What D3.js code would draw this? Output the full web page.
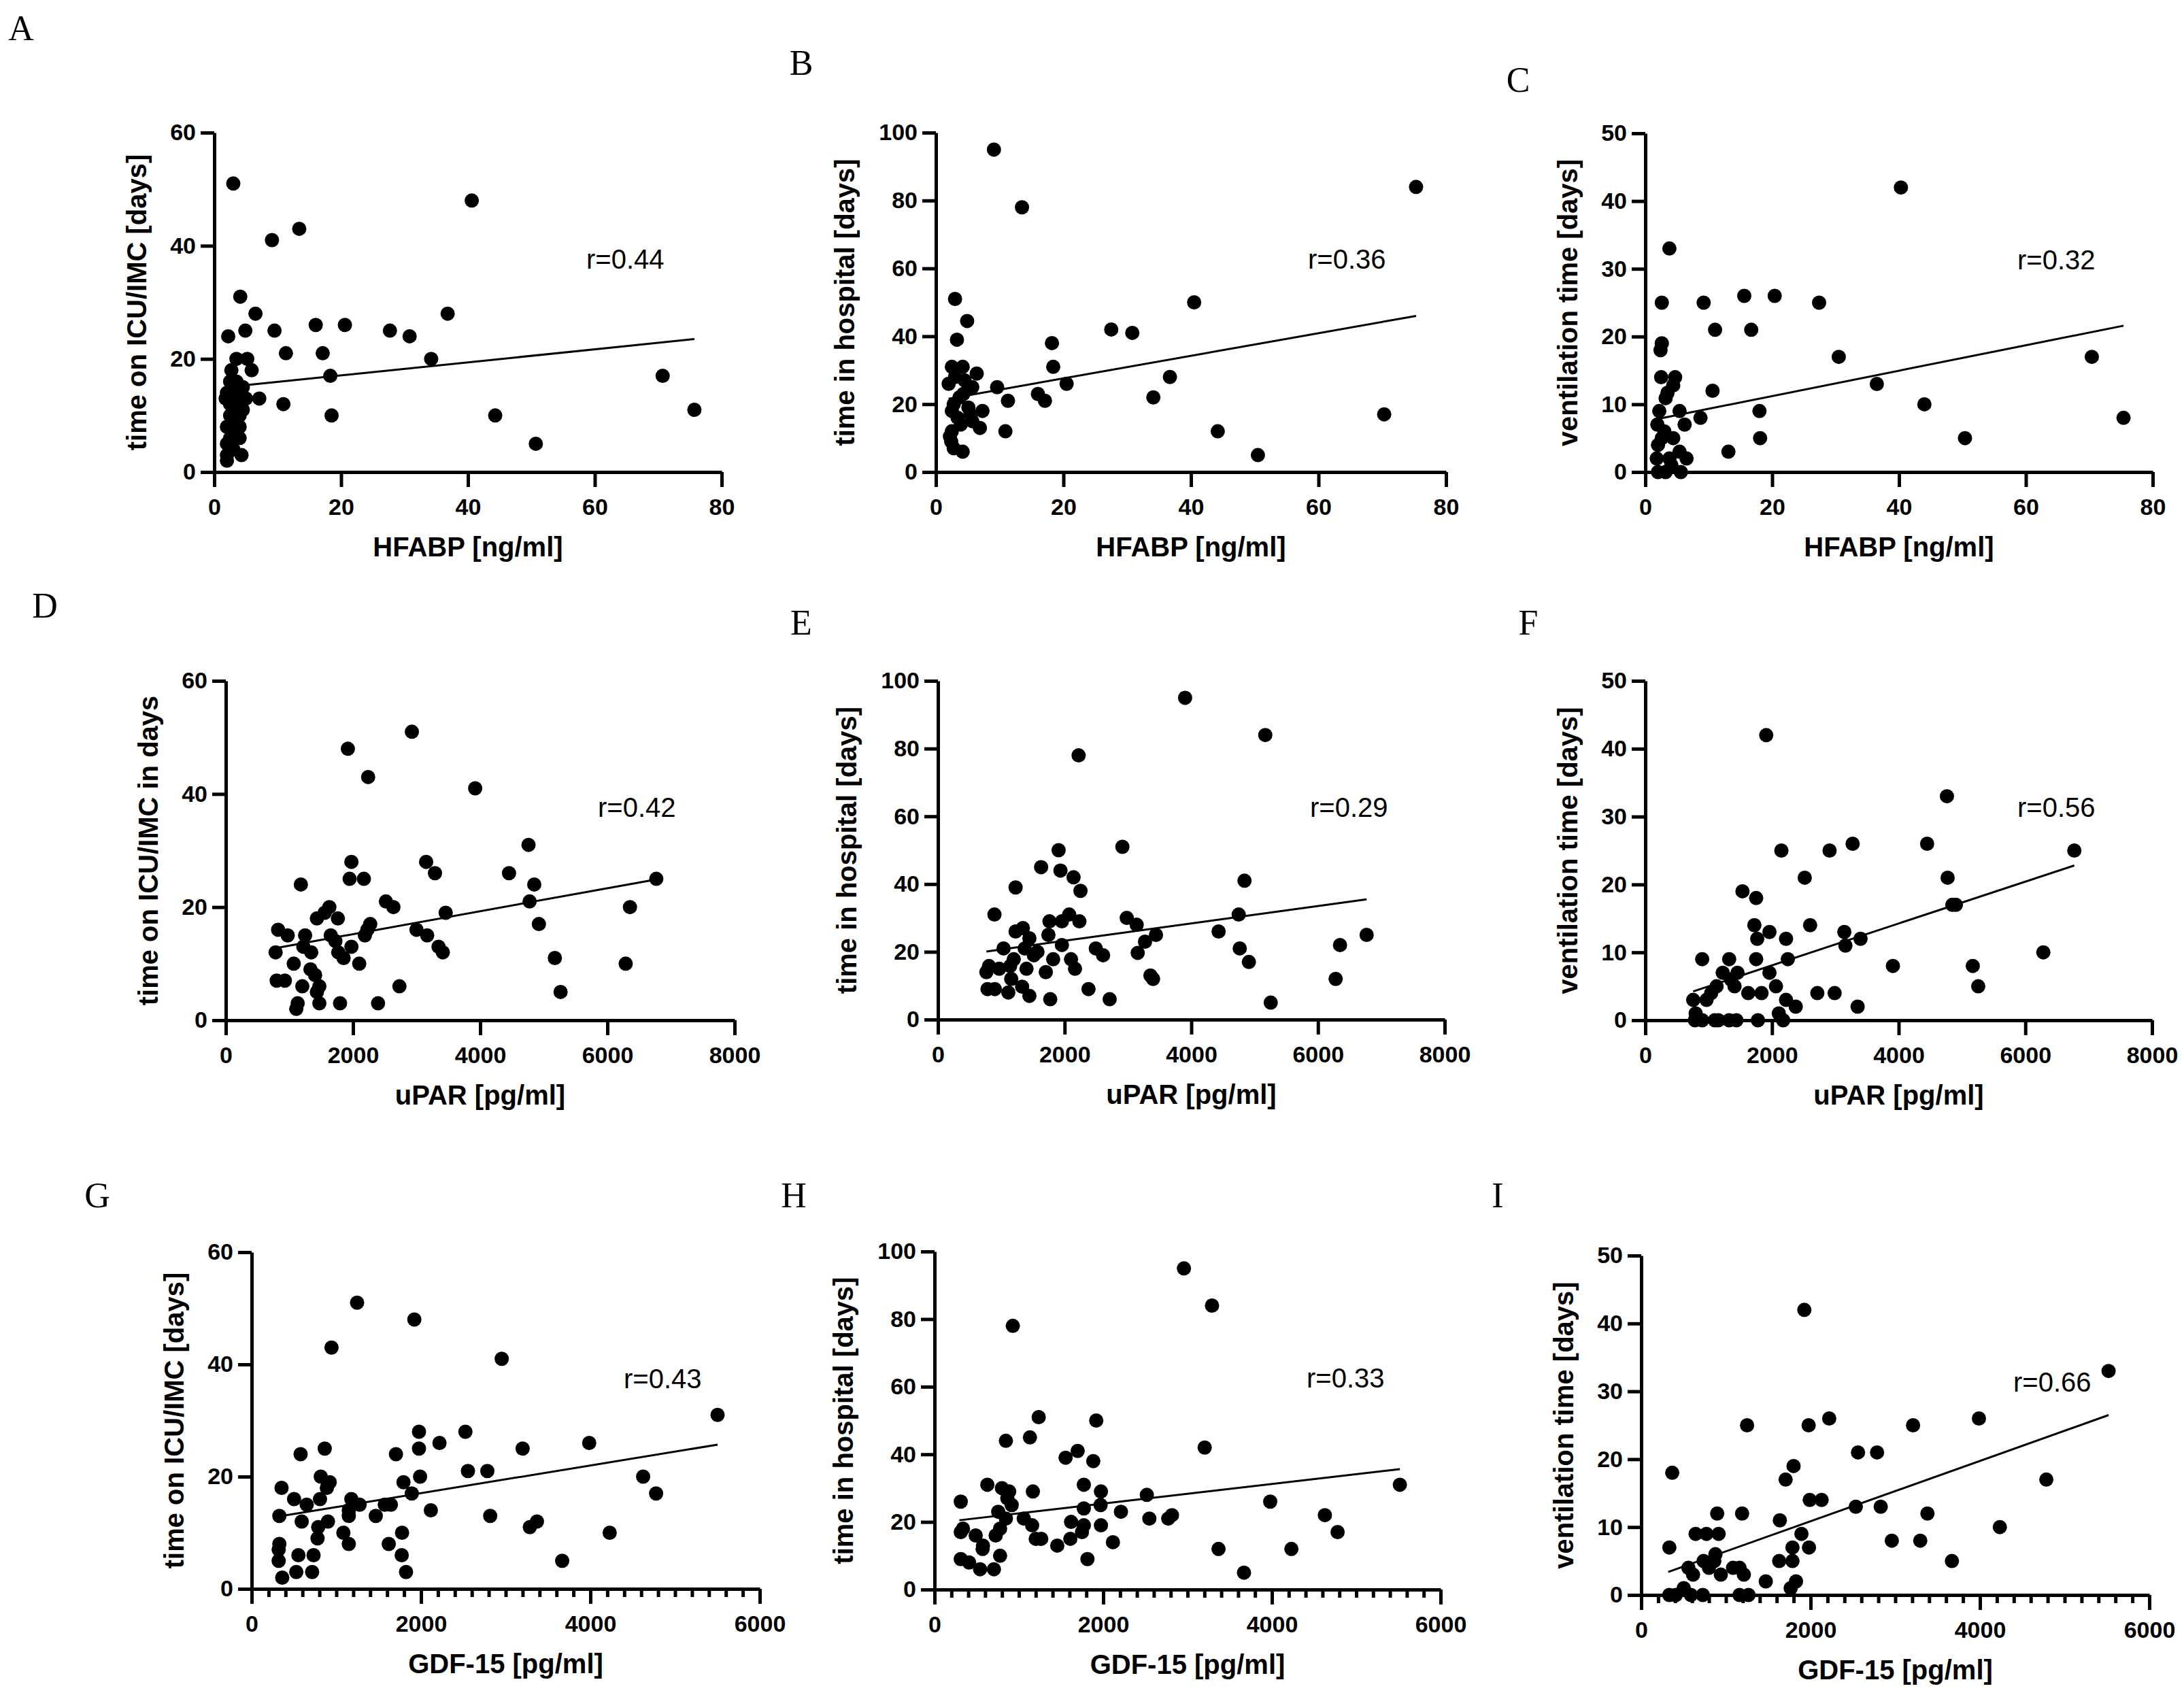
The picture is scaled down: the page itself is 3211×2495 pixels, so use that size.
<!DOCTYPE html>
<html>
<head>
<meta charset="utf-8">
<script src="https://cdn.jsdelivr.net/npm/d3@7"></script>
<style>
  body { margin: 0; background: #fff; }
  svg { display: block; }
</style>
</head>
<body>
<script>
// ---- data ----
const panelLetters = ["A", "B", "C", "D", "E", "F", "G", "H", "I"];
const yTitles = ["time on ICU/IMC [days]", "time in hospital [days]", "ventilation time [days]",
                 "time on ICU/IMC in days", "time in hospital [days]", "ventilation time [days]",
                 "time on ICU/IMC [days]", "time in hospital [days]", "ventilation time [days]"];
const xTitles = ["HFABP [ng/ml]", "uPAR [pg/ml]", "GDF-15 [pg/ml]"];
const rValues = ["r=0.44", "r=0.36", "r=0.32", "r=0.42", "r=0.29", "r=0.56", "r=0.43", "r=0.33", "r=0.66"];

const xTicksHFABP = [0, 20, 40, 60, 80];
const xTicksUPAR = [0, 2000, 4000, 6000, 8000];
const xTicksGDF = [0, 2000, 4000, 6000];
const yTicksICU = [0, 20, 40, 60];
const yTicksHosp = [0, 20, 40, 60, 80, 100];
const yTicksVent = [0, 10, 20, 30, 40, 50];

const pointsA = [[3.0,51],[40.6,48],[13.4,43],[9.1,41],[4.1,31],[6.5,28],[36.8,28],[2.2,24],[4.9,25],[9.5,25],
  [16,26],[20.6,26],[27.7,25],[30.8,24],[11.3,21],[17.1,21],[34.2,20],[18.3,17],[70.7,17],[75.7,11],[44.3,10],
  [18.5,10],[10.9,12],[50.7,5],[7.1,13],[3.5,20],[5.2,20],[2.7,18],[5.9,18],[2.5,16],[3.5,16],[4.5,15],[2,14],
  [3,14],[4,14],[1.8,13],[3.5,13],[5,13],[2.5,12],[4,12],[3,11],[4.5,11],[2.5,10],[4,10],[3,9],[2,8],[4,8],
  [3,7],[2.5,6],[4,6],[2,5],[3,4],[2,3],[4.3,3],[2,2]];
const pointsB = [[9.1,95],[75.3,84],[13.5,78],[3.0,51],[40.5,50],[4.9,44.5],[3.3,39],[27.5,42],[30.8,41],[18.2,38],
  [18.4,31],[2.5,31],[4.2,31],[6.4,29],[36.7,28],[20.5,26],[9.6,25],[16,23],[17.1,21],[11.3,21],[34.1,22],[70.3,17],
  [44.2,12],[10.9,12],[50.5,5],[6.9,13],[7.3,18],[2,26],[5.7,25],[4.3,23],[2.8,20],[5.1,19],[3.4,16],[5.7,15],
  [2.5,12],[2.4,9],[2.8,7],[4.2,6],[3.7,22],[2.5,18],[3.9,14],[2.2,10.5],[5.4,17],[3,28],[4.5,27]];
const pointsC = [[40.3,42],[3.8,33],[2.6,25],[9.2,25],[15.6,26],[20.4,26],[27.4,25],[11,21],[16.7,21],[2.6,19],
  [2.4,18],[30.5,17],[70.4,17],[36.5,13],[2.5,14],[4.7,14],[4.4,12.8],[3.5,11.7],[3.2,10.9],[10.6,12],[44,10],
  [2.2,9],[5.4,9],[18,9],[8.7,8],[75.4,8],[6.2,7],[1.9,7],[18.1,5],[50.4,5],[13.1,3],[6.5,2],[2.6,5],[4.4,5],
  [2,4],[5.4,3],[1.8,2],[3.8,2],[2,0],[3.2,0],[5.6,0],[4.1,1],[3,6]];
const pointsD = [[2926,51],[1919,48],[2238,43],[3921,41],[4760,31],[1975,28],[3150,28],[3289,26],[4453,26],[1947,25],
  [2171,25],[1180,24],[4850,24],[6769,25],[4777,21],[2517,21],[2635,20],[6355,20],[1628,20],[1555,19],[1432,18],
  [1762,18],[3457,19],[2271,17],[4923,17],[822,16],[973,15],[1247,15],[2226,16],[2187,15],[2998,16],[3166,15],
  [1650,15],[1723,14],[1975,13],[1219,13],[1343,12],[3345,13],[3412,12],[783,12],[1768,12],[1852,11],[5174,11],
  [1068,10],[2098,10],[6288,10],[1331,9],[1404,8],[800,7],[928,7],[1203,6],[1471,6],[2730,6],[1432,5],[5264,5],
  [1130,3],[1108,2],[1471,3],[1796,3],[2394,3]];
const pointsE = [[3902,95],[5168,84],[2221,78],[1905,50],[2912,51],[1629,45],[1934,44],[2141,42],[1226,39],[2250,38],
  [4840,41],[892,31],[2072,31],[4748,31],[1761,29],[1957,29],[2233,29],[2981,30],[3137,28],[1226,26],[1341,27],
  [1744,25],[1444,24],[3442,25],[4431,26],[6768,25],[3269,23],[1957,22],[1036,21],[6348,22],[1370,21],[1571,20],
  [2492,21],[2607,19],[3154,19.7],[4765,21],[1197,17.8],[1819,17.8],[2101,17.8],[1514,19],[4909,17],[806,15.8],
  [967,15],[1140,15.8],[1398,15],[1703,14],[2164,15],[3355,13],[3396,12],[6279,12],[765,14],[1157,12],[783,9],
  [898,9],[1111,8],[1329,9.7],[1444,7],[2377,9],[1773,6],[2711,6],[5254,5]];
const pointsF = [[1909,42],[4762,33],[6773,25],[2148,25],[2909,25],[3273,26],[4449,26],[2517,21],[4773,21],[1534,19],
  [1750,18],[4847,17],[4903,17],[1722,14],[1960,13],[2602,14],[3142,13],[3398,12],[3159,11],[1767,12],[2222,12],
  [6284,10],[898,9],[1324,9],[1750,9],[2250,9],[3909,8],[5170,8],[1222,7],[1455,7],[1960,7],[5256,5],[1352,6],
  [1409,5],[1125,5],[2063,5],[1625,4],[1835,4],[2716,4],[2989,4],[1040,4],[756,3],[966,3],[2222,3],[2375,2],
  [3352,2],[795,1],[2108,1],[784,0],[898,0],[1097,0],[1153,0],[1324,0],[1438,0],[1778,0],[2176,0]];
const pointsG = [[1245,51],[1921,48],[943,43],[2953,41],[5502,31],[1976,28],[2524,28],[2218,26],[3986,26],[863,25],
  [1976,25],[3200,25],[578,24],[1704,24],[2554,21],[2783,21],[816,20],[1989,20],[4623,20],[922,19],[1793,19],
  [353,18],[888,18],[1891,17],[4776,17],[501,16],[807,16],[1177,16],[650,15],[1275,15],[1572,15],[1644,15],
  [1147,14],[327,13],[1147,13],[1466,13],[2116,14],[2817,13],[591,12],[901,12],[3369,12],[3285,11],[786,11],
  [1083,10],[1776,10],[4228,10],[778,9],[327,8],[1147,8],[1619,8],[319,7],[552,6],[731,6],[1772,6],[319,5],
  [3667,5],[527,3],[714,3],[1823,3],[361,2]];
const pointsH = [[2957,95],[3290,84],[928,78],[1235,51],[1917,50],[1131,45],[846,44],[3203,42],[1697,41],[1554,39],
  [1882,38],[626,31],[1770,31],[5517,31],[799,30],[885,29],[1166,29],[1973,29],[2517,28],[863,27],[311,26],
  [3980,26],[915,25],[1969,25],[1770,24],[755,23],[2210,23],[4628,22],[2815,22],[846,21],[2547,21],[2771,21],
  [1058,21],[1619,20],[1157,19],[1770,19],[1973,19],[337,18],[777,18],[4779,17],[1748,17],[311,17],[488,16],
  [725,16],[1200,15],[1610,15],[1265,15],[2115,14],[574,13],[1455,13],[3367,12],[4231,12],[570,12],[777,10],
  [311,9],[1813,9],[410,8],[540,6],[704,6],[3669,5]];
const pointsI = [[1926,42],[5519,33],[2220,26],[3988,26],[1250,25],[1977,25],[3210,25],[2560,21],[2785,21],[1799,19],
  [366,18],[1705,17],[4784,17],[1990,14],[2130,14],[2534,13],[2828,13],[897,12],[1191,12],[3380,12],[1637,11],
  [4235,10],[642,9],[770,9],[914,9],[1892,9],[2959,8],[3295,8],[332,7],[1786,7],[1981,7],[876,6],[736,5],
  [1629,5],[1786,5],[3669,5],[863,5],[557,4],[800,4],[1084,4],[1161,4],[612,3],[940,3],[1212,3],[1471,2],
  [1828,2],[1765,1],[502,1],[332,0],[408,0],[587,0],[727,0],[1161,0],[1267,0]];

// fitted regression lines as drawn: [[x start, y start], [x end, y end]]
const fitLines = [
  [[1.8, 15.0], [75.7, 23.5]],
  [[2.0, 21.6], [75.3, 46.0]],
  [[1.8, 7.8], [75.4, 21.6]],
  [[783, 12.75], [6769, 24.9]],
  [[765, 20.1], [6768, 35.5]],
  [[756, 4.25], [6773, 22.8]],
  [[319, 12.9], [5502, 25.7]],
  [[294, 20.5], [5517, 35.6]],
  [[319, 3.4], [5519, 26.5]]
];

// ---- layout ----
const W = 3211, H = 2495;
const frames = [
  {x0: 315, x1: 1061, y0: 195, y1: 694, letter: [31, 59]},
  {x0: 1376, x1: 2126, y0: 195, y1: 694, letter: [1178, 110]},
  {x0: 2419, x1: 3165, y0: 196, y1: 694, letter: [2232, 135]},
  {x0: 332, x1: 1080, y0: 1001, y1: 1500, letter: [66, 908]},
  {x0: 1379, x1: 2124, y0: 1001, y1: 1499, letter: [1178, 933]},
  {x0: 2419, x1: 3164, y0: 1001, y1: 1500, letter: [2247, 933]},
  {x0: 370, x1: 1117, y0: 1841, y1: 2336, letter: [143, 1775]},
  {x0: 1374, x1: 2118, y0: 1840, y1: 2337, letter: [1167, 1775]},
  {x0: 2413, x1: 3160, y0: 1846, y1: 2345, letter: [2202, 1775]}
];

const allPoints = [pointsA, pointsB, pointsC, pointsD, pointsE, pointsF, pointsG, pointsH, pointsI];
const xTickSets = [xTicksHFABP, xTicksUPAR, xTicksGDF];
const yTickSets = [yTicksICU, yTicksHosp, yTicksVent];

const svg = d3.select("body").append("svg")
    .attr("width", W)
    .attr("height", H)
    .attr("viewBox", `0 0 ${W} ${H}`);

svg.append("rect").attr("width", W).attr("height", H).attr("fill", "#fff");

const sans = "'Liberation Sans', Arial, sans-serif";
const serif = "'Liberation Serif', 'Times New Roman', serif";

function styleAxis(g) {
    g.select(".domain").attr("stroke", "#000").attr("stroke-width", 5);
    g.selectAll(".tick line").attr("stroke", "#000").attr("stroke-width", 5);
    g.selectAll(".tick text")
        .attr("fill", "#000")
        .attr("font-family", sans)
        .attr("font-weight", "bold")
        .attr("font-size", 34);
}

allPoints.forEach((pts, i) => {
    const f = frames[i];
    const row = Math.floor(i / 3), col = i % 3;
    const xt = xTickSets[row], yt = yTickSets[col];

    const x = d3.scaleLinear().domain([xt[0], xt[xt.length - 1]]).range([f.x0, f.x1]);
    const y = d3.scaleLinear().domain([yt[0], yt[yt.length - 1]]).range([f.y1, f.y0]);

    const g = svg.append("g");

    // minor ticks on the GDF-15 axes
    if (row === 2) {
        const minor = d3.range(0, 6001, 200).filter(v => v % 2000 !== 0);
        g.append("g")
            .attr("transform", `translate(0,${f.y1})`)
            .call(d3.axisBottom(x).tickValues(minor).tickSize(12).tickFormat(""))
            .call(a => a.select(".domain").remove())
            .call(a => a.selectAll(".tick line").attr("stroke", "#000").attr("stroke-width", 5));
    }

    g.append("g")
        .attr("transform", `translate(0,${f.y1})`)
        .call(d3.axisBottom(x).tickValues(xt).tickSize(22).tickSizeOuter(0).tickPadding(17).tickFormat(d3.format("d")))
        .call(styleAxis);

    g.append("g")
        .attr("transform", `translate(${f.x0},0)`)
        .call(d3.axisLeft(y).tickValues(yt).tickSize(20).tickSizeOuter(0).tickPadding(7).tickFormat(d3.format("d")))
        .call(styleAxis);

    // regression line
    g.append("line")
        .attr("x1", x(fitLines[i][0][0])).attr("y1", y(fitLines[i][0][1]))
        .attr("x2", x(fitLines[i][1][0])).attr("y2", y(fitLines[i][1][1]))
        .attr("stroke", "#000")
        .attr("stroke-width", 3);

    g.selectAll("circle")
        .data(pts)
        .enter()
        .append("circle")
        .attr("cx", d => x(d[0]))
        .attr("cy", d => y(d[1]))
        .attr("r", 10.5)
        .attr("fill", "#000");

    // r label
    g.append("text")
        .attr("x", f.x0 + 547)
        .attr("y", f.y0 + 200)
        .attr("font-family", sans)
        .attr("font-size", 40)
        .text(rValues[i]);

    // axis titles
    g.append("text")
        .attr("x", (f.x0 + f.x1) / 2)
        .attr("y", f.y1 + 124)
        .attr("text-anchor", "middle")
        .attr("font-family", sans)
        .attr("font-weight", "bold")
        .attr("font-size", 40)
        .text(xTitles[row]);

    const off = col === 1 ? 120 : 100;
    g.append("text")
        .attr("transform", `translate(${f.x0 - off},${(f.y0 + f.y1) / 2}) rotate(-90)`)
        .attr("text-anchor", "middle")
        .attr("font-family", sans)
        .attr("font-weight", "bold")
        .attr("font-size", 40)
        .text(yTitles[i]);

    // panel letter
    svg.append("text")
        .attr("x", f.letter[0])
        .attr("y", f.letter[1])
        .attr("text-anchor", "middle")
        .attr("font-family", serif)
        .attr("font-size", 52)
        .text(panelLetters[i]);
});
</script>
</body>
</html>
